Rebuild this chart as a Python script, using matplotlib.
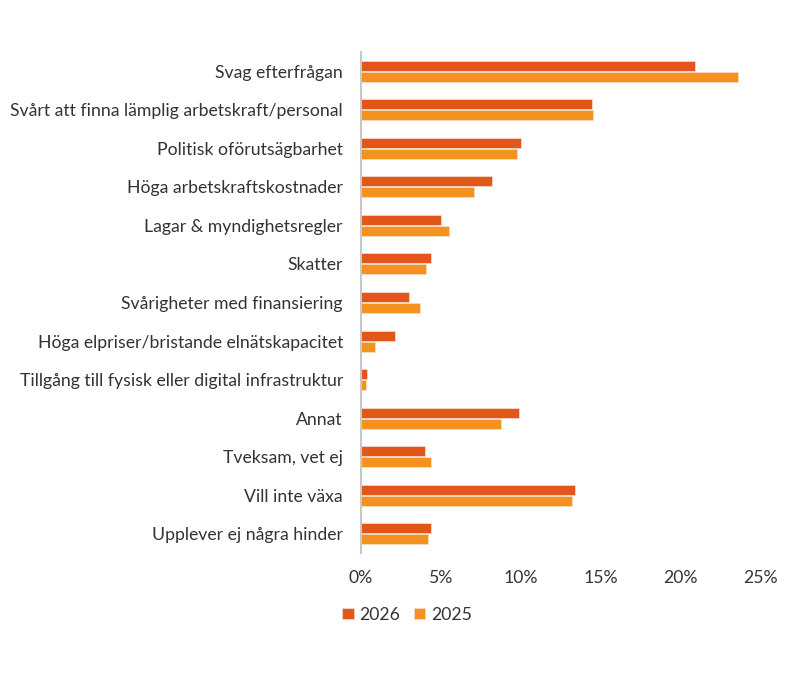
import matplotlib.pyplot as plt
import numpy as np

plt.rcParams['font.family'] = ['Lato', 'DejaVu Sans']

categories = [
    'Svag efterfrågan',
    'Svårt att finna lämplig arbetskraft/personal',
    'Politisk oförutsägbarhet',
    'Höga arbetskraftskostnader',
    'Lagar & myndighetsregler',
    'Skatter',
    'Svårigheter med finansiering',
    'Höga elpriser/bristande elnätskapacitet',
    'Tillgång till fysisk eller digital infrastruktur',
    'Annat',
    'Tveksam, vet ej',
    'Vill inte växa',
    'Upplever ej några hinder',
]
values_2026 = [20.9, 14.5, 10.0, 8.2, 5.0, 4.4, 3.0, 2.1, 0.35, 9.9, 4.0, 13.4, 4.4]
values_2025 = [23.6, 14.55, 9.8, 7.1, 5.5, 4.1, 3.7, 0.9, 0.3, 8.8, 4.4, 13.25, 4.2]
xticks = [0, 5, 10, 15, 20, 25]

c2026 = '#E2561A'
c2025 = '#F3921F'
txt = '#333333'
fs = 12.7

fig = plt.figure(figsize=(8, 7), dpi=100)
ax = fig.add_axes([0.45125, 0.21, 0.49875, 0.7157])

y = np.arange(len(categories))
h = 0.26
ax.barh(y - 0.143, values_2026, height=h, color=c2026, edgecolor='#f2d6c8', linewidth=0.6, label='2026')
ax.barh(y + 0.143, values_2025, height=h, color=c2025, edgecolor='#f6dcc0', linewidth=0.6, label='2025')

ax.set_ylim(len(categories) - 0.5, -0.5)
ax.set_xlim(0, 25)
ax.set_yticks(y)
ax.set_yticklabels(categories, fontsize=fs, color=txt)
ax.set_xticks(xticks)
ax.set_xticklabels([f'{t}%' for t in xticks], fontsize=fs, color=txt)
ax.tick_params(axis='y', length=0, pad=13)
ax.tick_params(axis='x', length=0, pad=12)

for s in ['top', 'right', 'bottom']:
    ax.spines[s].set_visible(False)
ax.spines['left'].set_color('#c8c8c8')
ax.spines['left'].set_linewidth(1.5)

fig.legend(loc='center left', bbox_to_anchor=(0.408, 0.122), ncol=2, frameon=False,
           fontsize=fs, handlelength=0.65, handleheight=0.65, handletextpad=0.3,
           columnspacing=0.8, labelcolor=txt)

fig.savefig('out.png', dpi=100)
